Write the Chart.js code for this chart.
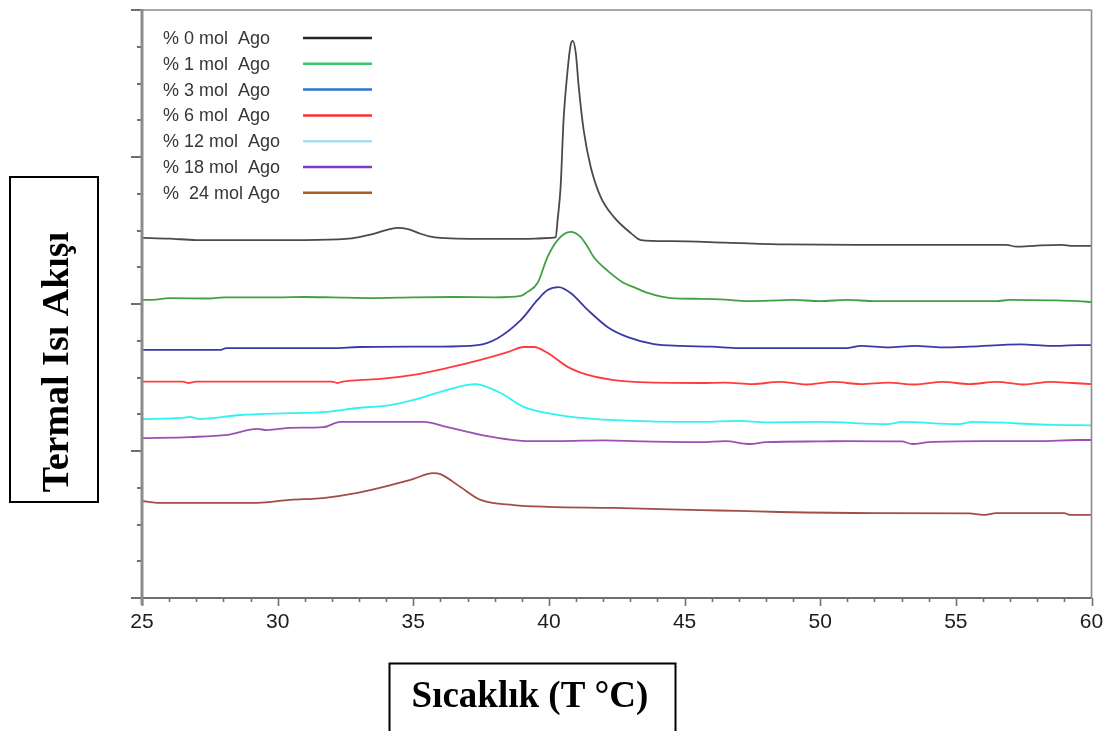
<!DOCTYPE html>
<html>
<head>
<meta charset="utf-8">
<script src="https://cdn.jsdelivr.net/npm/chart.js@4.4.0/dist/chart.umd.min.js"></script>
<style>
html,body{margin:0;padding:0;background:#ffffff;}
#wrap{position:relative;width:1110px;height:731px;}
</style>
</head>
<body>
<div id="wrap"><canvas id="c"></canvas></div>
<script>
// ---- data (x: temperature °C, y: heat flow, arbitrary offset units) ----
const seriesLabels = ['% 0 mol  Ago', '% 1 mol  Ago', '% 3 mol  Ago', '% 6 mol  Ago', '% 12 mol  Ago', '% 18 mol  Ago', '%  24 mol Ago'];

const ago0X = [25, 26, 27, 29, 31, 32.5, 33, 33.5, 34, 34.4, 34.8, 35.2, 35.6, 36, 38, 39.5, 40.1, 40.25, 40.32, 40.43, 40.54, 40.69, 40.8, 40.88, 40.99, 41.1, 41.28, 41.54, 41.91, 42.39, 43.02, 43.39, 44.49, 46.52, 48.74, 52, 56.86, 57.23, 58, 58.9, 59.3, 60];
const ago0Y = [9.80, 9.78, 9.74, 9.74, 9.74, 9.77, 9.82, 9.90, 10.01, 10.07, 10.04, 9.93, 9.84, 9.80, 9.77, 9.78, 9.80, 9.82, 10.29, 11.18, 13.01, 14.37, 15.05, 15.16, 14.83, 13.90, 12.73, 11.73, 10.91, 10.37, 9.93, 9.74, 9.71, 9.67, 9.62, 9.61, 9.61, 9.56, 9.59, 9.61, 9.58, 9.58];

const ago1X = [25, 25.5, 26, 27.5, 28, 30, 31, 32, 33.5, 35, 36.5, 38, 38.96, 39.21, 39.58, 39.95, 40.32, 40.8, 41.17, 41.43, 41.65, 42.17, 42.76, 43.13, 43.64, 44.49, 45.6, 46.5, 47.3, 48.5, 49, 50, 51, 52, 54, 56.5, 57, 58.5, 59.5, 60];
const ago1Y = [8.11, 8.12, 8.16, 8.15, 8.18, 8.18, 8.19, 8.18, 8.16, 8.18, 8.19, 8.18, 8.22, 8.33, 8.57, 9.28, 9.74, 9.96, 9.82, 9.55, 9.28, 8.90, 8.57, 8.46, 8.30, 8.16, 8.14, 8.12, 8.08, 8.10, 8.11, 8.08, 8.11, 8.08, 8.08, 8.08, 8.11, 8.10, 8.08, 8.05];

const ago3X = [25, 27.9, 28.1, 32, 33, 35, 36, 37.37, 38.11, 38.96, 39.58, 39.95, 40.36, 40.8, 41.43, 42.17, 42.91, 43.87, 44.86, 46, 47, 51, 51.5, 52.5, 53.5, 54.5, 55.5, 57.4, 58.5, 59.5, 60];
const ago3Y = [6.75, 6.75, 6.80, 6.80, 6.83, 6.84, 6.84, 6.88, 7.07, 7.56, 8.11, 8.38, 8.46, 8.30, 7.84, 7.37, 7.10, 6.91, 6.86, 6.84, 6.80, 6.80, 6.86, 6.82, 6.86, 6.82, 6.84, 6.90, 6.86, 6.88, 6.88];

const ago6X = [25, 26.5, 26.7, 27, 32, 32.2, 32.4, 33, 33.79, 35.01, 36.26, 37.48, 38.48, 39.07, 39.44, 39.95, 40.69, 41.43, 42.39, 43.13, 45.6, 46.5, 47.5, 48.5, 49.5, 50.5, 51.5, 52.5, 53.5, 54.5, 55.5, 56.5, 57.5, 58.5, 59.3, 60];
const ago6Y = [5.89, 5.89, 5.85, 5.89, 5.89, 5.85, 5.89, 5.93, 5.96, 6.07, 6.26, 6.48, 6.69, 6.83, 6.83, 6.67, 6.29, 6.07, 5.93, 5.88, 5.85, 5.86, 5.82, 5.88, 5.81, 5.88, 5.82, 5.86, 5.81, 5.88, 5.82, 5.88, 5.81, 5.88, 5.85, 5.82];

const ago12X = [25, 26.5, 26.77, 27.1, 28.62, 30.46, 31.68, 32.94, 34.16, 35.01, 36, 37, 37.3, 37.48, 38.22, 39.07, 39.95, 41.17, 42.39, 45.6, 47, 48, 50, 52.5, 53, 55.1, 55.6, 58.6, 60];
const ago12Y = [4.87, 4.90, 4.93, 4.87, 4.98, 5.03, 5.06, 5.17, 5.25, 5.39, 5.61, 5.80, 5.82, 5.80, 5.58, 5.20, 5.03, 4.90, 4.84, 4.79, 4.82, 4.78, 4.79, 4.73, 4.79, 4.73, 4.79, 4.71, 4.70];

const ago18X = [25, 26.77, 28.14, 29.25, 29.6, 30.46, 31.68, 32.31, 33.53, 35.37, 36.26, 37.48, 39.32, 40.4, 42, 43.5, 45.6, 46.5, 47.4, 48, 50, 51, 53, 53.4, 54, 56, 58, 59.5, 60];
const ago18Y = [4.35, 4.38, 4.44, 4.60, 4.57, 4.63, 4.65, 4.79, 4.79, 4.79, 4.65, 4.44, 4.27, 4.27, 4.29, 4.26, 4.24, 4.27, 4.19, 4.24, 4.26, 4.27, 4.26, 4.19, 4.24, 4.27, 4.27, 4.30, 4.30];

const ago24X = [25, 25.55, 29.25, 30.46, 31.68, 32.94, 34.16, 35.01, 35.5, 35.74, 36, 36.74, 37.48, 38.7, 39.95, 42.39, 45.6, 47, 48.5, 52, 55.5, 56, 56.5, 59, 59.2, 60];
const ago24Y = [2.64, 2.59, 2.59, 2.67, 2.72, 2.86, 3.07, 3.24, 3.37, 3.40, 3.37, 3.02, 2.67, 2.53, 2.48, 2.45, 2.39, 2.37, 2.34, 2.31, 2.30, 2.26, 2.31, 2.31, 2.26, 2.26];

const xMin = 25, xMax = 60, xStep = 1, xMajorEvery = 5;
const yMin = 0, yMax = 16, yStep = 1, yMajorEvery = 4;

const xAxisTitle = 'Sıcaklık (T °C)';
const yAxisTitle = 'Termal Isı Akışı';

// ---- styles ----
const curveColors  = ['#4a4a4a', '#41a041', '#3a3aa6', '#ff3c3c', '#30f2f2', '#9c50b2', '#a24e46'];
const legendColors = ['#262626', '#36c86a', '#2a76d2', '#ff2f2f', '#a9dcee', '#7e3cc0', '#b05a22'];

const seriesX = [ago0X, ago1X, ago3X, ago6X, ago12X, ago18X, ago24X];
const seriesY = [ago0Y, ago1Y, ago3Y, ago6Y, ago12Y, ago18Y, ago24Y];

const datasets = seriesLabels.map((label, i) => ({
  label: label,
  data: seriesX[i].map((x, j) => ({ x: x, y: seriesY[i][j] })),
  borderColor: curveColors[i],
  borderWidth: 1.8,
  pointRadius: 0,
  fill: false,
  cubicInterpolationMode: 'monotone'
}));

const AXIS = '#6f6f6f';

const decorPlugin = {
  id: 'decor',
  afterDatasetsDraw(chart) {
    const { ctx, chartArea: a, scales } = chart;
    const xs = scales.x, ys = scales.y;
    ctx.save();
    ctx.lineCap = 'butt';
    // y ticks (outside, left)
    ctx.strokeStyle = AXIS;
    ctx.lineWidth = 2;
    ys.ticks.forEach(t => {
      const py = Math.round(ys.getPixelForValue(t.value));
      const major = Math.round(t.value) % yMajorEvery === 0;
      ctx.beginPath();
      ctx.moveTo(a.left - (major ? 11 : 5), py);
      ctx.lineTo(a.left, py);
      ctx.stroke();
    });
    // x ticks (outside, below)
    ctx.lineWidth = 1.6;
    xs.ticks.forEach(t => {
      const px = Math.round(xs.getPixelForValue(t.value)) + 0.5;
      const major = Math.round(t.value) % xMajorEvery === 0;
      ctx.beginPath();
      ctx.moveTo(px, a.bottom);
      ctx.lineTo(px, a.bottom + (major ? 8 : 4));
      ctx.stroke();
    });
    // frame: top and right
    ctx.strokeStyle = '#8a8a8a';
    ctx.lineWidth = 1.6;
    ctx.beginPath();
    ctx.moveTo(a.left, a.top);
    ctx.lineTo(a.right, a.top);
    ctx.moveTo(a.right, a.top);
    ctx.lineTo(a.right, a.bottom);
    ctx.stroke();
    // bottom axis
    ctx.strokeStyle = AXIS;
    ctx.lineWidth = 2;
    ctx.beginPath();
    ctx.moveTo(a.left - 10, a.bottom);
    ctx.lineTo(a.right, a.bottom);
    ctx.stroke();
    // left axis
    ctx.strokeStyle = '#8c8c8c';
    ctx.lineWidth = 3;
    ctx.beginPath();
    ctx.moveTo(a.left, a.top - 1);
    ctx.lineTo(a.left, a.bottom + 7);
    ctx.stroke();

    // legend: text then line sample
    ctx.font = '18px "Liberation Sans", Arial, sans-serif';
    ctx.textBaseline = 'middle';
    ctx.textAlign = 'left';
    chart.data.datasets.forEach((ds, i) => {
      const cy = a.top + 28 + i * 25.8;
      ctx.fillStyle = '#363636';
      ctx.fillText(ds.label, a.left + 21, cy + 1);
      ctx.strokeStyle = legendColors[i];
      ctx.lineWidth = 2.5;
      ctx.beginPath();
      ctx.moveTo(a.left + 161, cy);
      ctx.lineTo(a.left + 230, cy);
      ctx.stroke();
    });
    ctx.restore();
  },
  afterDraw(chart) {
    const { ctx } = chart;
    ctx.save();
    ctx.strokeStyle = '#000000';
    ctx.lineWidth = 2;
    ctx.fillStyle = '#000000';
    // y title box
    ctx.strokeRect(10, 177, 88, 325);
    ctx.save();
    ctx.font = 'bold 38px "Liberation Serif", "Times New Roman", serif';
    ctx.translate(58, 362);
    ctx.rotate(-Math.PI / 2);
    ctx.textAlign = 'center';
    ctx.textBaseline = 'middle';
    ctx.fillText(yAxisTitle, 0, 0);
    ctx.restore();
    // x title box
    ctx.font = 'bold 37px "Liberation Serif", "Times New Roman", serif';
    ctx.strokeRect(389.5, 663.5, 286, 80);
    ctx.textAlign = 'center';
    ctx.textBaseline = 'middle';
    ctx.fillText(xAxisTitle, 530, 697);
    ctx.restore();
  }
};

new Chart(document.getElementById('c'), {
  type: 'line',
  data: { datasets: datasets },
  options: {
    responsive: true,
    maintainAspectRatio: false,
    animation: false,
    layout: { padding: { left: 142, top: 10, right: 18.5, bottom: 0 } },
    plugins: { legend: { display: false }, tooltip: { enabled: false } },
    scales: {
      x: {
        type: 'linear',
        min: xMin, max: xMax,
        grid: { display: false },
        border: { display: false },
        ticks: {
          stepSize: xStep,
          autoSkip: false,
          maxRotation: 0,
          padding: 4,
          color: '#1c1c1c',
          font: { family: '"Liberation Sans", Arial, sans-serif', size: 21 },
          callback: (v) => (Math.round(v) % xMajorEvery === 0 ? String(v) : '')
        },
        afterFit: (s) => { s.height = 133; }
      },
      y: {
        type: 'linear',
        min: yMin, max: yMax,
        grid: { display: false },
        border: { display: false },
        ticks: { stepSize: yStep, display: false },
        afterFit: (s) => { s.width = 0; }
      }
    }
  },
  plugins: [decorPlugin]
});
</script>
</body>
</html>
